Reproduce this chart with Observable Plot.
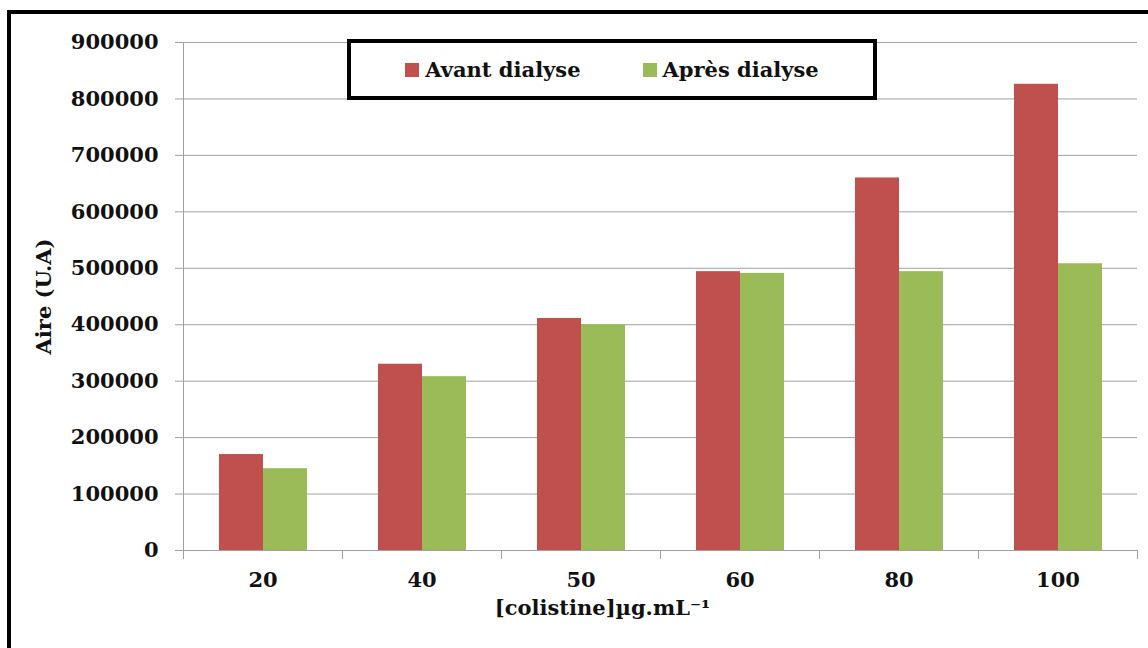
<!DOCTYPE html>
<html>
<head>
<meta charset="utf-8">
<script src="https://cdn.jsdelivr.net/npm/d3@7"></script>
<script src="https://cdn.jsdelivr.net/npm/@observablehq/plot@0.6"></script>
<style>
  html, body { margin: 0; padding: 0; background: #fff; overflow: hidden; }
  #wrap { position: relative; width: 1148px; height: 648px; font-family: "DejaVu Serif", serif; font-weight: bold; }
  #border { position: absolute; left: 7px; top: 10px; width: 1200px; height: 700px; border: 4px solid #000; box-sizing: border-box; pointer-events: none; }
  #legend { position: absolute; left: 347px; top: 39px; width: 530px; height: 61px; border: 4px solid #000; box-sizing: border-box; background: #fff;
            display: flex; align-items: center; justify-content: center; gap: 62px; font-size: 21px; color: #111; }
  .item { display: flex; align-items: center; gap: 6px; }
  .sw { width: 14px; height: 14px; display: inline-block; }
  #chart { position: absolute; left: 0; top: 0; }
</style>
</head>
<body>
<div id="wrap">
  <div id="chart"></div>
  <div id="border"></div>
  <div id="legend"></div>
</div>
<script>
const categories = ["20", "40", "50", "60", "80", "100"];
const series = ["Avant dialyse", "Après dialyse"];
const avant = [170000, 330000, 411000, 494000, 660000, 826000];
const apres = [145000, 308000, 400000, 491000, 494000, 508000];
const yTicks = [0, 100000, 200000, 300000, 400000, 500000, 600000, 700000, 800000, 900000];
const colors = ["#C0504D", "#9BBB59"];
const yLabel = "Aire (U.A)";
const xLabel = "[colistine]µg.mL⁻¹";

const data = categories.flatMap((c, i) => [
  {cat: c, series: series[0], value: avant[i]},
  {cat: c, series: series[1], value: apres[i]}
]);

const H = 648, mt = 42, mb = 98;
const gray = "#a0a0a0";

const chart = Plot.plot({
  width: 1148,
  height: H,
  marginLeft: 182,
  marginRight: 10,
  marginTop: mt,
  marginBottom: mb,
  style: {fontFamily: "DejaVu Serif", fontWeight: "bold", fontSize: "21px", background: "transparent", color: "#111", overflow: "visible"},
  fx: {domain: categories, padding: 0, label: null},
  x: {domain: series, paddingInner: 0, paddingOuter: 0.77, axis: null},
  y: {domain: [0, 900000], axis: null},
  color: {domain: series, range: colors},
  marks: [
    Plot.gridY(yTicks, {stroke: gray, strokeOpacity: 1}),
    Plot.barY(data, {fx: "cat", x: "series", y: "value", fill: "series"}),
    Plot.ruleY([0], {stroke: gray}),
    Plot.frame({anchor: "right", stroke: gray, insetTop: H - mt - mb, insetBottom: -8}),
    Plot.frame({anchor: "left", stroke: gray, insetBottom: -8, facet: "super"}),
    Plot.axisY(yTicks, {tickSize: 8, tickPadding: 17, tickFormat: d => String(d), stroke: gray, fill: "#111", label: null}),
    Plot.axisY({label: yLabel, labelAnchor: "center", labelArrow: "none", labelOffset: 147, ticks: [], tickSize: 0, fill: "#111"}),
    Plot.axisFx({anchor: "bottom", tickSize: 0, tickPadding: 22, fill: "#111", label: null}),
    Plot.text([xLabel], {frameAnchor: "bottom", dy: 64, dx: -58, facet: "super", fill: "#111", fontSize: 21, fontWeight: "bold"})
  ]
});
document.getElementById("chart").appendChild(chart);

const legend = document.getElementById("legend");
series.forEach((s, i) => {
  const item = document.createElement("div");
  item.className = "item";
  const sw = document.createElement("span");
  sw.className = "sw";
  sw.style.background = colors[i];
  const t = document.createElement("span");
  t.textContent = s;
  item.appendChild(sw);
  item.appendChild(t);
  legend.appendChild(item);
});
</script>
</body>
</html>
